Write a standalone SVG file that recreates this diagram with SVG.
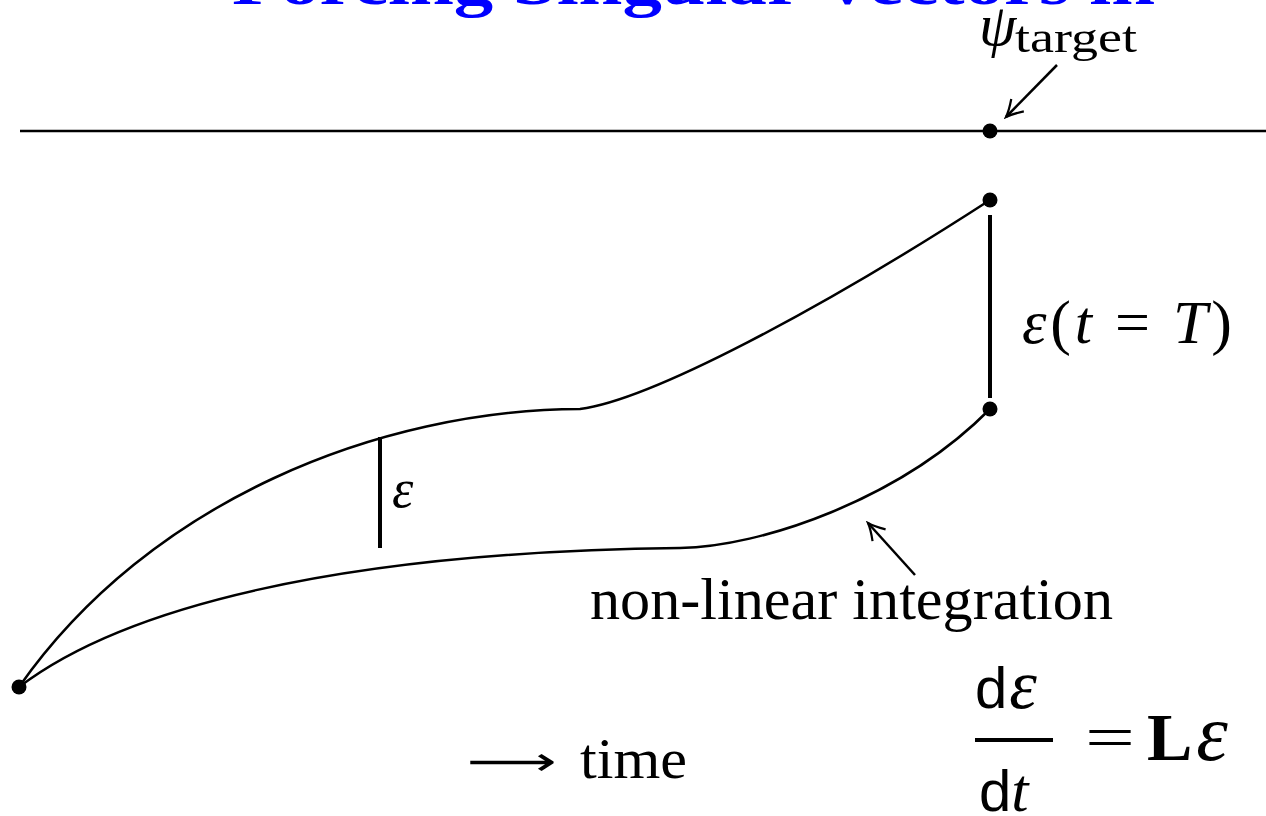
<svg xmlns="http://www.w3.org/2000/svg" width="1266" height="816" viewBox="0 0 1266 816">
<defs>
<style>
.ln{fill:none;stroke:#000;stroke-width:2.5}
.thick{fill:none;stroke:#000;stroke-width:4}
.dot{fill:#000}
.t{font-family:"Liberation Serif","DejaVu Serif",serif;fill:#000}
.s{font-family:"Liberation Sans","DejaVu Sans",sans-serif;fill:#000}
</style>
<marker id="ah" viewBox="0 0 20 20" refX="18" refY="10" markerWidth="22" markerHeight="22" markerUnits="userSpaceOnUse" orient="auto">
<path d="M3,2 Q12,8 18,10 Q12,12 3,18" fill="none" stroke="#000" stroke-width="2"/>
</marker>
</defs>
<rect width="1266" height="816" fill="#fff"/>
<g id="title">
<text x="232" y="4" class="t" font-size="64" font-weight="bold" fill="#0000ff" style="fill:#0000ff" textLength="923" lengthAdjust="spacingAndGlyphs">Forcing Singular Vectors in</text>
</g>
<g id="connectors">
<line x1="20" y1="131" x2="1266" y2="131" class="ln" stroke-width="2"/>
<path class="ln" d="M19,687 C150,500 380,410 580,409 C650,400 820,310 990,200"/>
<path class="ln" d="M19,687 C120,610 330,552 680,548 C760,547 900,500 990,409"/>
<line x1="990" y1="215" x2="990" y2="398" class="thick"/>
<line x1="380" y1="437" x2="380" y2="548" class="thick"/>
<line x1="1057" y1="65" x2="1006" y2="117" class="ln" stroke-width="2" marker-end="url(#ah)"/>
<line x1="915" y1="575" x2="868" y2="523" class="ln" stroke-width="2" marker-end="url(#ah)"/>
</g>
<g id="target">
<circle cx="990" cy="131" r="7.5" class="dot"/>
<text x="979" y="45" class="t" font-size="60" font-style="italic">ψ</text>
<text x="1015" y="52" class="t" font-size="44" textLength="122" lengthAdjust="spacingAndGlyphs">target</text>
</g>
<g id="end-upper"><circle cx="990" cy="200" r="7.5" class="dot"/></g>
<g id="end-lower"><circle cx="990" cy="409" r="7.5" class="dot"/></g>
<g id="start"><circle cx="19" cy="687" r="7.5" class="dot"/></g>
<g id="eps-T">
<text x="1022" y="343" class="t" font-size="62" textLength="210" lengthAdjust="spacing"><tspan font-style="italic">ε</tspan>(<tspan font-style="italic">t</tspan> = <tspan font-style="italic">T</tspan>)</text>
</g>
<g id="eps">
<text x="392" y="507" class="t" font-size="54" font-style="italic">ε</text>
</g>
<g id="nonlinear">
<text x="590" y="619" class="t" font-size="60" textLength="523" lengthAdjust="spacingAndGlyphs">non-linear integration</text>
</g>
<g id="time">
<text x="467" y="775" font-family="DejaVu Sans, sans-serif" font-size="40" textLength="90" lengthAdjust="spacingAndGlyphs">⟶</text>
<text x="580" y="778" class="t" font-size="58" textLength="107" lengthAdjust="spacingAndGlyphs">time</text>
</g>
<g id="formula">
<text x="975" y="708" font-size="58"><tspan class="s">d</tspan><tspan class="t" font-style="italic" font-size="70" dx="2">ε</tspan></text>
<line x1="975" y1="740" x2="1053" y2="740" class="thick"/>
<text x="979" y="811" font-size="58"><tspan class="s">d</tspan><tspan class="t" font-style="italic" font-size="62">t</tspan></text>
<text x="1085" y="757" class="t" font-size="60" textLength="50" lengthAdjust="spacingAndGlyphs">=</text>
<text x="1147" y="760" class="t" font-size="68" font-weight="bold">L<tspan font-weight="normal" font-style="italic" font-size="80" dx="4">ε</tspan></text>
</g>
</svg>
